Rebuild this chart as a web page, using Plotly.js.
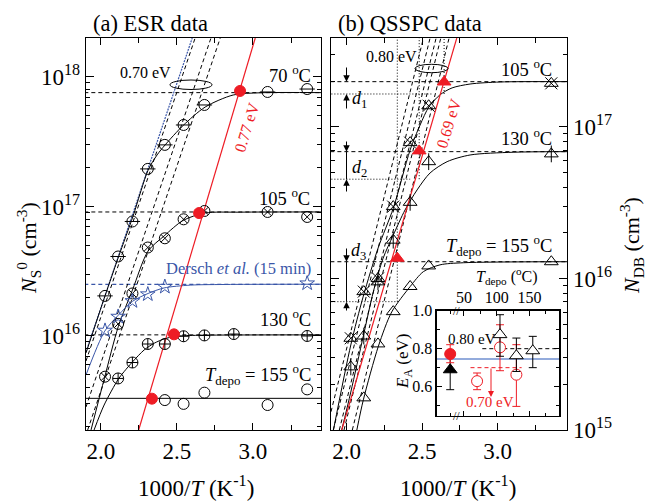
<!DOCTYPE html>
<html><head><meta charset="utf-8">
<script src="https://cdn.plot.ly/plotly-3.0.1.min.js"></script>
<style>html,body{margin:0;padding:0;background:#fff}</style>
</head><body><div id="chart" style="width:657px;height:504px"></div>
<script>
// ================= Panel (a): ESR data =================
const xA = [2.028, 2.114, 2.208, 2.309, 2.421, 2.544, 2.681, 3.096, 3.356];
const yA70 = [2.04e16, 4.11e16, 7.66e16, 1.95e17, 2.99e17, 4.26e17, 6.08e17, 7.66e17, 8.07e17];
const yA105 = [4.85e15, 1.24e16, 2.13e16, 4.82e16, 5.68e16, 7.96e16, 9.23e16, 9.07e16, 8.3e16];
const xA130 = [2.114, 2.208, 2.309, 2.421, 2.544, 2.681, 2.874, 3.356];
const yA130 = [4.7e15, 6.24e15, 8.67e15, 8.67e15, 9.95e15, 1.01e16, 1.035e16, 1.0e16];
const xA155 = [2.421, 2.544, 2.681, 3.096, 3.356];
const yA155 = [3.2e15, 2.99e15, 3.65e15, 2.93e15, 3.87e15];
const xDersch = [2.028, 2.114, 2.208, 2.309, 2.421, 3.356];
const yDersch = [1.1e16, 1.41e16, 1.86e16, 2.1e16, 2.4e16, 2.55e16];
const xARed = [2.915, 2.646, 2.481, 2.336];
const yARed = [7.8e17, 8.9e16, 1.03e16, 3.28e15];
const levelsA = [7.57e17, 9.07e16, 1.02e16];
const levelA155 = 3.3e15;
const levelDersch = 2.5e16;
// fitted curves
const fitA70x = [1.903, 2.028, 2.116, 2.2125, 2.311, 2.370, 2.423, 2.541, 2.686, 2.870, 3.048, 3.449];
const fitA70y = [7.4e15, 2.04e16, 4.07e16, 8.45e16, 1.91e17, 2.5e17, 2.99e17, 4.22e17, 5.86e17, 7.26e17, 7.55e17, 7.57e17];
const fitA105x = [1.936, 2.026, 2.116, 2.208, 2.311, 2.416, 2.541, 2.686, 2.916, 3.449];
const fitA105y = [1.88e15, 4.82e15, 1.19e16, 2.26e16, 4.53e16, 5.92e16, 7.8e16, 8.91e16, 9.04e16, 9.07e16];
const fitA130x = [1.956, 2.022, 2.116, 2.153, 2.208, 2.285, 2.351, 2.416, 2.482, 2.548, 2.719, 3.449];
const fitA130y = [1.88e15, 2.93e15, 4.66e15, 5.3e15, 6.3e15, 7.8e15, 8.79e15, 9.49e15, 9.88e15, 1.005e16, 1.015e16, 1.02e16];
const fitDx = [1.903, 2.026, 2.116, 2.208, 2.311, 2.416, 2.5875, 2.851, 3.449];
const fitDy = [5.0e15, 1.09e16, 1.45e16, 1.85e16, 2.13e16, 2.35e16, 2.47e16, 2.5e16, 2.51e16];
// Arrhenius lines (endpoints): 0.70 eV (dashed) and 0.77 eV (red)
const arrA_x = [[1.903, 2.620], [1.903, 2.724], [1.914, 2.785]];
const arrA_y = [[6.41e15, 2.0e18], [2.83e15, 2.0e18], [1.88e15, 2.0e18]];
const arrABlue_x = [1.903, 2.601];
const arrABlue_y = [7.52e15, 2.0e18];
const redA_x = [2.249, 3.015];
const redA_y = [1.88e15, 2.0e18];

// ================= Panel (b): QSSPC data =================
const xB = [2.028, 2.114, 2.208, 2.309, 2.421, 2.544, 3.356];
const yB105 = [4.03e15, 8.19e15, 1.0e16, 2.98e16, 7.88e16, 1.38e17, 1.94e17];
const yB130 = [2.61e15, 4.17e15, 9.5e15, 1.79e16, 3.18e16, 5.9e16, 6.64e16];
const xB155 = [2.114, 2.208, 2.309, 2.421, 2.544, 3.356];
const yB155 = [1.63e15, 3.7e15, 6.04e15, 8.85e15, 1.21e16, 1.29e16];
const xBRed = [2.646, 2.481, 2.336];
const yBRed = [1.98e17, 6.95e16, 1.36e16];
const levelsB = [1.99e17, 6.87e16, 1.29e16];
const dLevelsB = [1.65e17, 4.52e16, 7.03e15];
const dEndsB = [2.573, 2.421, 2.343];
const fitB105x = [1.913, 2.028, 2.111, 2.209, 2.310, 2.421, 2.487, 2.546, 2.619, 2.699, 2.818, 3.017, 3.460];
const fitB105y = [1.0e15, 3.64e15, 7.65e15, 1.59e16, 2.92e16, 7.05e16, 1.03e17, 1.36e17, 1.63e17, 1.81e17, 1.92e17, 1.98e17, 1.99e17];
const fitB130x = [1.968, 2.028, 2.111, 2.177, 2.242, 2.310, 2.387, 2.467, 2.553, 2.666, 2.818, 3.103, 3.460];
const fitB130y = [1.0e15, 1.78e15, 4.17e15, 8.15e15, 1.36e16, 1.94e16, 2.83e16, 3.84e16, 4.97e16, 5.9e16, 6.53e16, 6.81e16, 6.87e16];
const fitB155x = [2.068, 2.111, 2.211, 2.299, 2.421, 2.509, 2.619, 2.774, 3.460];
const fitB155y = [1.0e15, 1.58e15, 3.58e15, 6.01e15, 8.84e15, 1.11e16, 1.23e16, 1.27e16, 1.29e16];
const arrB_x = [[1.897, 2.509], [1.912, 2.553], [1.952, 2.593], [1.983, 2.624], [2.038, 2.679]];
const arrB_y = [[1.32e15, 3.86e17], [1e15, 3.86e17], [1e15, 3.86e17], [1e15, 3.86e17], [1e15, 3.86e17]];
const redB_x = [1.968, 2.730];
const redB_y = [1.0e15, 3.86e17];

// ================= Inset: E_A vs T_depo =================
const insTriX = [105, 130, 155];
const insTriY = [0.874, 0.763, 0.789];
const insTriUp = [0.105, 0.093, 0.076];
const insTriDn = [0.114, 0.083, 0.089];
const insCircX = [70, 105, 130];
const insCircY = [0.629, 0.807, 0.663];
const insCircUp = [0.043, 0.119, 0.158];
const insCircDn = [0.045, 0.123, 0.167];
const insAllX = [29];
const insRedAllY = [0.772], insRedAllUp = [0.049], insRedAllDn = [0.046];
const insBlkAllY = [0.689], insBlkAllUp = [0.09], insBlkAllDn = [0.105];
const insBlue = 0.746;
const insDashBlack = {x: [78, 200], y: 0.80};
const insDashRed = {x: [60, 138], y: 0.70};

// ================= helpers =================
const FONT = '"Liberation Serif", "Times New Roman", Times, serif';
const RED = '#ee1c25', BLUE = '#3a56a8', BLK = '#000';
const PL = 86, PR = 567, PT = 38, PB = 430;
const px = v => (v - PL) / (PR - PL);
const py = v => (PB - v) / (PB - PT);
const traces = [];
function line(x, y, xa, ya, color, width, dash, shape) {
  traces.push({x, y, xaxis: xa, yaxis: ya, mode: 'lines', hoverinfo: 'skip', showlegend: false,
    line: {color, width, dash: dash || 'solid', shape: shape || 'linear', smoothing: 0.8}});
}
function pts(x, y, xa, ya, symbol, color, size, fill) {
  traces.push({x, y, xaxis: xa, yaxis: ya, mode: 'markers', showlegend: false, hoverinfo: 'skip', cliponaxis: false,
    marker: {symbol, size, color: fill || color, line: {color, width: 1}}});
}
const DASH = '4px,3px', DOT = '1px,2px';
const HX = [1.8, 3.6];

// ---- panel a lines ----
levelsA.forEach(l => line(HX, [l, l], 'x', 'y', BLK, 1, DASH));
line(HX, [levelA155, levelA155], 'x', 'y', BLK, 1);
line(HX, [levelDersch, levelDersch], 'x', 'y', BLUE, 1.2, DASH);
arrA_x.forEach((xx, i) => line(xx, arrA_y[i], 'x', 'y', BLK, 1, DASH));
line(arrABlue_x, arrABlue_y, 'x', 'y', BLUE, 1.2, '2px,1px');
line(fitA70x, fitA70y, 'x', 'y', BLK, 1, 'solid', 'spline');
line(fitA105x, fitA105y, 'x', 'y', BLK, 1, 'solid', 'spline');
line(fitA130x, fitA130y, 'x', 'y', BLK, 1, 'solid', 'spline');
line(fitDx, fitDy, 'x', 'y', BLUE, 1, 'solid', 'spline');
line(redA_x, redA_y, 'x', 'y', RED, 1.2);
// markers a
pts(xA, yA70, 'x', 'y', 'circle-open', BLK, 11);
pts(xA, yA70, 'x', 'y', 'line-ew-open', BLK, 11);
pts(xA, yA105, 'x', 'y', 'circle-x-open', BLK, 11);
pts(xA130, yA130, 'x', 'y', 'circle-cross-open', BLK, 11);
pts(xA155, yA155, 'x', 'y', 'circle-open', BLK, 11);
pts(xDersch, yDersch, 'x', 'y', 'star-open', BLUE, 11);
pts(xARed, yARed, 'x', 'y', 'circle', RED, 11, RED);

// ---- panel b lines ----
levelsB.forEach(l => line(HX, [l, l], 'x2', 'y2', BLK, 1, DASH));
dLevelsB.forEach((l, i) => line([1.8, dEndsB[i]], [l, l], 'x2', 'y2', BLK, 1, DOT));
xBRed.forEach((xv, i) => line([xv, xv], [dLevelsB[i], 1e18], 'x2', 'y2', BLK, 1, DOT));
arrB_x.forEach((xx, i) => line(xx, arrB_y[i], 'x2', 'y2', BLK, 1, DASH));
line(fitB105x, fitB105y, 'x2', 'y2', BLK, 1, 'solid', 'spline');
line(fitB130x, fitB130y, 'x2', 'y2', BLK, 1, 'solid', 'spline');
line(fitB155x, fitB155y, 'x2', 'y2', BLK, 1, 'solid', 'spline');
line(redB_x, redB_y, 'x2', 'y2', RED, 1.2);
pts(xB, yB105, 'x2', 'y2', 'triangle-up-open', BLK, 12);
pts(xB, yB105, 'x2', 'y2', 'x-thin-open', BLK, 12);
pts(xB, yB130, 'x2', 'y2', 'triangle-up-open', BLK, 12);
pts(xB, yB130, 'x2', 'y2', 'line-ns-open', BLK, 12);
pts(xB155, yB155, 'x2', 'y2', 'triangle-up-open', BLK, 12);
pts(xBRed, yBRed, 'x2', 'y2', 'triangle-up', RED, 12, RED);

// ---- inset ----
line([0, 300], [insBlue, insBlue], 'x3', 'y3', '#6f8fd0', 1.5);
line(insDashBlack.x, [insDashBlack.y, insDashBlack.y], 'x3', 'y3', BLK, 1, DASH);
line(insDashRed.x, [insDashRed.y, insDashRed.y], 'x3', 'y3', RED, 1, DASH);
function epts(x, y, up, dn, symbol, color, size, fill) {
  traces.push({x, y, xaxis: 'x3', yaxis: 'y3', mode: 'markers', showlegend: false, hoverinfo: 'skip', cliponaxis: false,
    marker: {symbol, size, color: fill || '#fff', line: {color, width: 1}},
    error_y: {type: 'data', symmetric: false, array: up, arrayminus: dn, color, thickness: 1, width: 4}});
}
epts(insAllX, insBlkAllY, insBlkAllUp, insBlkAllDn, 'triangle-up', BLK, 12, BLK);
epts(insAllX, insRedAllY, insRedAllUp, insRedAllDn, 'circle', RED, 11, RED);
epts(insCircX, insCircY, insCircUp, insCircDn, 'circle', RED, 11);
epts(insTriX, insTriY, insTriUp, insTriDn, 'triangle-up', BLK, 12);

// ---- annotations ----
const ann = [];
function txt(text, x, y, size, opts) {
  ann.push(Object.assign({text, x: px(x), y: py(y), xref: 'paper', yref: 'paper', showarrow: false,
    font: {family: FONT, size, color: BLK}, xanchor: 'center', yanchor: 'middle'}, opts || {}));
}
function arrow(x, yTip, yTail) {
  ann.push({x: px(x), y: py(yTip), xref: 'paper', yref: 'paper', text: '', showarrow: true,
    ax: 0, ay: yTail - yTip, arrowhead: 2, arrowsize: 1.3, arrowwidth: 1, arrowcolor: BLK});
}
txt('(a) ESR data', 91, 24, 22.5, {xanchor: 'left'});
txt('(b) QSSPC data', 336, 24, 22.5, {xanchor: 'left'});
txt('1000/<i>T</i> (K<sup>-1</sup>)', 196, 486, 23);
txt('1000/<i>T</i> (K<sup>-1</sup>)', 458, 486, 23);
txt('<i>N</i><sub>S</sub><sup>0</sup> (cm<sup>-3</sup>)', 28, 248, 22, {textangle: -90});
txt('<i>N</i><sub>DB</sub> (cm<sup>-3</sup>)', 632, 246, 22, {textangle: -90});
// panel a texts
txt('0.70 eV', 145, 72, 16);
txt('70 <sup>o</sup>C', 313, 74, 18.5, {xanchor: 'right'});
txt('105 <sup>o</sup>C', 312, 197, 18.5, {xanchor: 'right'});
txt('Dersch <i>et al.</i> (15 min)', 313, 268, 16.5, {xanchor: 'right', font: {family: FONT, size: 16.5, color: BLUE}});
txt('130 <sup>o</sup>C', 313, 318, 18.5, {xanchor: 'right'});
txt('<i>T</i><sub>depo</sub> = 155 <sup>o</sup>C', 313, 374, 18.5, {xanchor: 'right'});
txt('0.77 eV', 247, 128, 16, {textangle: -73, font: {family: FONT, size: 16, color: RED}});
// panel b texts
txt('0.80 eV', 391, 56, 16);
txt('105 <sup>o</sup>C', 554, 68, 18.5, {xanchor: 'right'});
txt('130 <sup>o</sup>C', 554, 137, 18.5, {xanchor: 'right'});
txt('<i>T</i><sub>depo</sub> = 155 <sup>o</sup>C', 554, 245, 18.5, {xanchor: 'right'});
txt('0.69 eV', 449, 124, 16, {textangle: -73, font: {family: FONT, size: 16, color: RED}});
txt('<i>d</i><sub>1</sub>', 359, 99, 18);
txt('<i>d</i><sub>2</sub>', 359, 168, 18);
txt('<i>d</i><sub>3</sub>', 358, 251, 18);
arrow(346.5, 81.7, 66); arrow(346.5, 94, 110);
arrow(346.5, 151.7, 140); arrow(346.5, 179.3, 193);
arrow(346.5, 261.7, 247); arrow(346.5, 301.7, 312);
// inset texts
txt('<i>T</i><sub>depo</sub> (<sup>o</sup>C)', 507, 276, 16);
txt('<i>E</i><sub>A</sub> (eV)', 404, 362, 17, {textangle: -90});
txt('0.80 eV', 472, 339, 15);
txt('0.70 eV', 490, 402, 15, {font: {family: FONT, size: 15, color: RED}});
txt('//', 456.7, 311, 12);
txt('//', 456.7, 416, 12);
// red upper-limit arrow in inset
ann.push({x: px(491), y: py(397), xref: 'paper', yref: 'paper', text: '', showarrow: true,
  ax: 0, ay: -30, arrowhead: 2, arrowsize: 1.2, arrowwidth: 1, arrowcolor: RED});

const shapes = [
  {type: 'circle', xref: 'paper', yref: 'paper', x0: px(170), x1: px(212), y0: py(89.5), y1: py(80), line: {color: BLK, width: 1}},
  {type: 'circle', xref: 'paper', yref: 'paper', x0: px(415), x1: px(448), y0: py(72.7), y1: py(64.3), line: {color: BLK, width: 1}},
  {type: 'line', xref: 'paper', yref: 'paper', x0: px(346.5), x1: px(346.5), y0: py(151.7), y1: py(179.3), line: {color: BLK, width: 1}},
  {type: 'line', xref: 'paper', yref: 'paper', x0: px(346.5), x1: px(346.5), y0: py(261.7), y1: py(301.7), line: {color: BLK, width: 1}}
];

const axBase = {showgrid: false, zeroline: false, showline: true, linecolor: BLK, linewidth: 1.3,
  ticks: 'inside', mirror: 'ticks', tickcolor: BLK, tickfont: {family: FONT, size: 23, color: BLK}};
const xTicks = {tickvals: [2.0, 2.5, 3.0], ticktext: ['2.0', '2.5', '3.0'], ticklen: 7,
  minor: {tickvals: [2.25, 2.75, 3.25], ticks: 'inside', ticklen: 5, tickcolor: BLK}};
function logMinor(a, b) { const v = []; for (let e = a; e <= b; e++) for (let m = 2; m <= 9; m++) v.push(m * Math.pow(10, e)); return v; }

const layout = {
  width: 657, height: 504, margin: {l: PL, r: 657 - PR, t: PT, b: 504 - PB},
  paper_bgcolor: '#fff', plot_bgcolor: 'rgba(0,0,0,0)', showlegend: false,
  font: {family: FONT, color: BLK},
  xaxis: Object.assign({}, axBase, xTicks, {domain: [0, 0.4886], range: [1.903, 3.447], anchor: 'y'}),
  yaxis: Object.assign({}, axBase, {type: 'log', range: [15.274, 18.301], anchor: 'x',
    tickvals: [1e16, 1e17, 1e18], ticktext: ['10<sup>16</sup>', '10<sup>17</sup>', '10<sup>18</sup>'], ticklen: 8,
    minor: {tickvals: logMinor(15, 18), ticks: 'inside', ticklen: 4, tickcolor: BLK}}),
  xaxis2: Object.assign({}, axBase, xTicks, {domain: [0.5094, 1], range: [1.897, 3.460], anchor: 'y2'}),
  yaxis2: Object.assign({}, axBase, {type: 'log', range: [15.0, 17.587], anchor: 'x2', side: 'right',
    tickvals: [1e15, 1e16, 1e17], ticktext: ['10<sup>15</sup>', '10<sup>16</sup>', '10<sup>17</sup>'], ticklen: 8,
    minor: {tickvals: logMinor(15, 17), ticks: 'inside', ticklen: 4, tickcolor: BLK}}),
  xaxis3: Object.assign({}, axBase, {domain: [0.7291, 0.9840], range: [8.4, 195.5], anchor: 'y3', side: 'top',
    tickvals: [50, 100, 150], ticktext: ['50', '100', '150'], ticklen: 5, tickfont: {family: FONT, size: 16, color: BLK},
    minor: {tickvals: [29, 75, 125, 175], ticks: 'inside', ticklen: 3, tickcolor: BLK}}),
  yaxis3: Object.assign({}, axBase, {domain: [0.0365, 0.3043], range: [0.447, 1.0], anchor: 'x3',
    tickvals: [0.6, 0.8, 1.0], ticktext: ['0.6', '0.8', '1.0'], ticklen: 5, tickfont: {family: FONT, size: 16, color: BLK},
    minor: {tickvals: [0.5, 0.7, 0.9], ticks: 'inside', ticklen: 3, tickcolor: BLK}}),
  annotations: ann, shapes
};
Plotly.newPlot('chart', traces, layout, {staticPlot: true, displayModeBar: false});
</script></body></html>
